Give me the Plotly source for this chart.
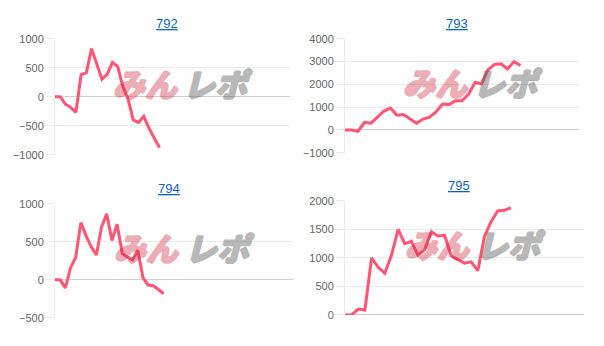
import plotly.graph_objects as go

# ---- data ----
titles = ["792", "793", "794", "795"]

s792 = [0, 0, -128, -183, -270, 383, 411, 830, 567, 300, 389, 594, 522, 178, -44, -405, -444, -339, -544, -711, -878]
s793 = [0, 0, -56, 338, 296, 577, 831, 958, 648, 676, 479, 296, 479, 563, 789, 1141, 1113, 1282, 1282, 1563, 2085, 2028, 2648, 2873, 2901, 2676, 3000, 2831]
s794 = [0, 0, -106, 157, 298, 753, 583, 434, 328, 698, 868, 519, 732, 349, 298, 264, 391, 30, -68, -77, -128, -183]
s795 = [0, 0, 102, 85, 1000, 835, 733, 1045, 1500, 1250, 1290, 1045, 1148, 1460, 1386, 1398, 1034, 977, 909, 932, 778, 1375, 1636, 1824, 1836, 1880]

series = [s792, s793, s794, s795]
y_ranges = [[-1000, 1000], [-1000, 4000], [-500, 1000], [0, 2000]]
y_dticks = [500, 1000, 500, 500]
x_spans = [45, 36, 46, 36]

# ---- layout geometry (pixels) ----
W, H = 604, 346
boxes = [  # x0, x1, ytop, ybottom
    (55, 290, 34, 154),
    (345, 579, 34, 152),
    (55, 293, 205, 323),
    (345, 584, 202, 320),
]

LINE = "#ff5473"
GRID = "#ebebeb"
ZERO = "#cfcfcf"
TICKC = "#666666"
FONT = "Liberation Sans, Arial, sans-serif"
PINK = "rgb(208,42,62)"
GRAY = "rgb(80,80,80)"

fig = go.Figure()
layout = dict(
    width=W, height=H,
    margin=dict(l=0, r=0, t=0, b=0),
    paper_bgcolor="white", plot_bgcolor="white",
    showlegend=False,
    font=dict(family=FONT, size=11, color=TICKC),
)
annotations = []


def wm_font(col):
    return dict(family="Noto Sans CJK JP", size=32, color=col, weight=900,
                style="italic",
                shadow=f"1px 0 0 {col}, -1px 0 0 {col}, 0 1px 0 {col}, 0 -1px 0 {col}")


for i, (vals, box) in enumerate(zip(series, boxes)):
    n = i + 1
    xa = "x" if n == 1 else f"x{n}"
    ya = "y" if n == 1 else f"y{n}"
    xkey = "xaxis" if n == 1 else f"xaxis{n}"
    ykey = "yaxis" if n == 1 else f"yaxis{n}"
    x0, x1, yt, yb = box
    fig.add_trace(go.Scatter(
        x=list(range(len(vals))), y=vals, mode="lines",
        line=dict(color=LINE, width=3), xaxis=xa, yaxis=ya,
        hoverinfo="skip",
    ))
    layout[xkey] = dict(
        domain=[x0 / W, x1 / W], anchor=ya, range=[0, x_spans[i]],
        showgrid=False, zeroline=False, showticklabels=False, showline=False,
        fixedrange=True,
    )
    layout[ykey] = dict(
        domain=[1 - yb / H, 1 - yt / H], anchor=xa, range=y_ranges[i],
        dtick=y_dticks[i], tick0=0, showgrid=True, gridcolor=GRID, gridwidth=1,
        zeroline=True, zerolinecolor=ZERO, zerolinewidth=1,
        showline=True, linecolor=GRID, linewidth=1,
        ticks="outside", ticklen=8, tickcolor=GRID,
        tickfont=dict(family=FONT, size=11, color=TICKC),
        fixedrange=True,
    )
    # title
    annotations.append(dict(
        text=titles[i], xref=f"{xa} domain", yref="paper",
        x=0.477, y=1 - (yt - 16) / H, xanchor="center", yanchor="middle",
        showarrow=False,
        font=dict(family=FONT, size=13, color="#0b63ce", lineposition="under"),
    ))
    # watermark
    annotations.append(dict(
        text="みん", xref=f"{xa} domain", yref=f"{ya} domain",
        x=0.385, y=0.62, xanchor="center", yanchor="middle", showarrow=False,
        font=wm_font(PINK), opacity=0.38,
    ))
    annotations.append(dict(
        text="レポ", xref=f"{xa} domain", yref=f"{ya} domain",
        x=0.695, y=0.62, xanchor="center", yanchor="middle", showarrow=False,
        font=wm_font(GRAY), opacity=0.4,
    ))

layout["annotations"] = annotations
fig.update_layout(**layout)
fig.write_html("out.html")
